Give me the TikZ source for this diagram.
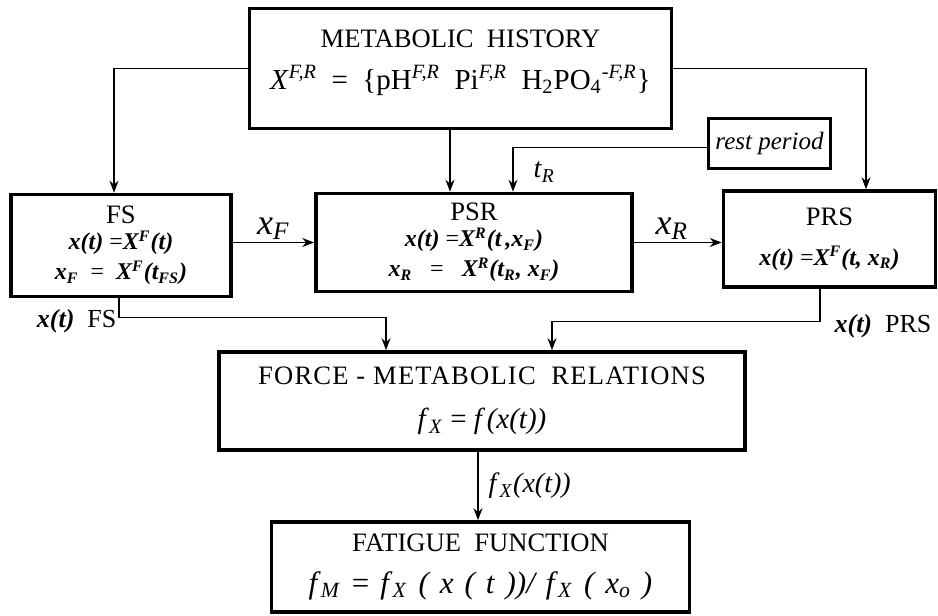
\documentclass[tikz,border=0pt]{standalone}
\usepackage{fontspec}
\setmainfont{Liberation Serif}
\usetikzlibrary{arrows.meta}
\newcommand{\bi}[1]{\textbf{\textit{#1}}}
\newcommand{\eqsize}{\fontsize{12}{14}\selectfont}
\newcommand{\tgap}{\hspace{5.5pt}}

\begin{document}
\begin{tikzpicture}[x=0.5pt, y=-0.5pt,
        block/.style={rectangle, draw=black, line width=1.8pt, align=center, inner sep=2pt, font=\fontsize{13.3}{15}\selectfont},
        arrow/.style={-{Stealth[length=6pt, width=4.5pt]}, line width=0.6pt},
        lbl/.style={inner sep=1pt, font=\fontsize{13}{15}\selectfont},
        biglbl/.style={inner sep=1pt, font=\fontsize{18}{20}\selectfont}
    ]
        \useasboundingbox (0,0) rectangle (938,616);

        % Nodes
        \node (mh) [block, minimum width=211pt, minimum height=60pt] at (460.5,68.5)
            {METABOLIC\ \ HISTORY\\[6pt]
             {\fontsize{14.5}{16}\selectfont\textit{X}\textsuperscript{\textit{F,R}}\ \ =\ \ \{pH\textsuperscript{\textit{F,R}}\ \ Pi\textsuperscript{\textit{F,R}}\ \ H\textsubscript{2}PO\textsubscript{4}\textsuperscript{-\textit{F,R}}\}\hspace{14pt}}\\[-6pt]\mbox{}};
        \node (fs) [block, minimum width=110pt, minimum height=51pt] at (121,245.5)
            {FS\\[-2pt]
             {\eqsize\bi{x(t)} =\bi{X\textsuperscript{F}(t)}}\\[0pt]
             {\eqsize\bi{x\textsubscript{F}}\ \ =\ \ \bi{X\textsuperscript{F}(t\textsubscript{FS})}}};
        \node (psr) [block, minimum width=158pt, minimum height=49pt] at (474,242.5)
            {PSR\\[-2pt]
             {\eqsize\bi{x(t)} =\bi{X\textsuperscript{R}(t\,,x\textsubscript{F})}}\\[0pt]
             {\eqsize\bi{x\textsubscript{R}}\ \ \ =\ \ \ \bi{X\textsuperscript{R}(t\textsubscript{R}, x\textsubscript{F})}}};
        \node (prs) [block, minimum width=106pt, minimum height=48pt] at (829.5,239)
            {PRS\\[5pt]
             {\eqsize\bi{x(t)} =\bi{X\textsuperscript{F}(t, x\textsubscript{R})}}};
        \node (rest) [block, minimum width=61pt, minimum height=25pt, font=\fontsize{12.5}{14}\selectfont\itshape] at (769.5,143.5)
            {rest period};
        \node (fmr) [block, minimum width=263pt, minimum height=49pt] at (482,401)
            {{\addfontfeature{LetterSpace=4.5}FORCE\ -\ METABOLIC\ \ RELATIONS}\\[7pt]
             {\fontsize{14.5}{16}\selectfont\textit{f}\textsubscript{\textit{X}} = \textit{f\,(x(t))}}};
        \node (ff) [block, minimum width=209pt, minimum height=45pt] at (480.5,567)
            {FATIGUE\ \ FUNCTION\\[6pt]
             {\fontsize{15.5}{17}\selectfont\textit{f}\textsubscript{\textit{M}}\tgap=\tgap\textit{f}\textsubscript{\textit{X}}\tgap\textit{(\tgap x\tgap(\tgap t\tgap))/\tgap f}\textsubscript{\textit{X}}\tgap\textit{(\tgap x}\textsubscript{\textit{o}}\tgap\textit{)}}};

        % Arrows
        \draw [arrow] (mh.west) -| ([xshift=-3.5pt]fs.north);
        \draw [arrow] (mh.east) -| ([xshift=18.25pt]prs.north);
        \draw [arrow] ([xshift=-5.25pt]mh.south) -- ([xshift=-5.25pt]mh.south |- psr.north);
        \draw [arrow] ([yshift=-2pt]rest.west) -| node[pos=0.78, right=9pt, biglbl, font=\fontsize{14}{16}\selectfont] {\textit{t}\textsubscript{\textit{R}}} ([xshift=19.5pt]psr.north);
        \draw [arrow] (fs.east |- psr) -- node[above, biglbl] {\textit{x}\textsubscript{\textit{F}}} (psr.west);
        \draw [arrow] (psr.east) -- node[above, biglbl, xshift=-3pt] {\textit{x}\textsubscript{\textit{R}}} (psr.east -| prs.west);
        \draw [arrow] ([xshift=-1pt]fs.south) -- ++(0,19) node[left, lbl, yshift=-2pt] {\bi{x(t)}\ \ FS} -| ([xshift=-48pt]fmr.north);
        \draw [arrow] ([xshift=-4.75pt]prs.south) -- ++(0,33) node[right=6pt, lbl, yshift=-2pt] {\bi{x(t)}\ \ PRS} -| ([xshift=35pt]fmr.north);
        \draw [arrow] ([xshift=-2pt]fmr.south) -- node[right=4pt, lbl, font=\fontsize{14}{16}\selectfont] {\textit{f}\textsubscript{\textit{X}}\textit{(x(t))}} ([xshift=-2pt]fmr.south |- ff.north);

    \end{tikzpicture}
\end{document}
